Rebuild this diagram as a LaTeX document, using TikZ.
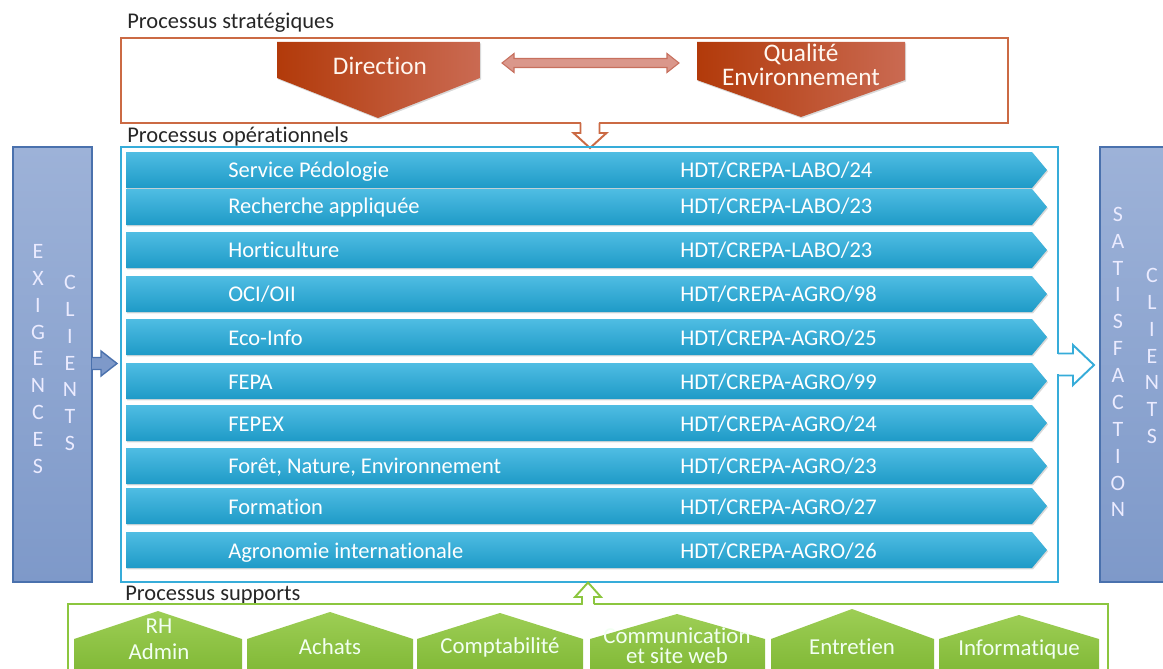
\documentclass[tikz,border=0pt]{standalone}
\usepackage{fontspec}
\setmainfont[Ligatures=NoCommon]{Carlito}
\usepackage{xcolor}
\usetikzlibrary{shadows, positioning}

\definecolor{orangecadre}{HTML}{CB6A44}
\definecolor{orangefonce}{HTML}{B23A0A}
\definecolor{orangeclair}{HTML}{CA6A52}
\definecolor{saumon}{HTML}{DA978B}
\definecolor{saumonbord}{HTML}{C7705E}
\definecolor{cyancadre}{HTML}{36ACD9}
\definecolor{cyanhaut}{HTML}{4FBDE3}
\definecolor{cyanbas}{HTML}{1E9AC7}
\definecolor{bleuhaut}{HTML}{9DB2D8}
\definecolor{bleubas}{HTML}{7E99C9}
\definecolor{bleubord}{HTML}{4A71AD}
\definecolor{vertcadre}{HTML}{8CC63F}
\definecolor{verthaut}{HTML}{9DCE55}
\definecolor{vertbas}{HTML}{78B22D}

\begin{document}
\begin{tikzpicture}[x=0.02cm, y=-0.02cm,
		titre/.style={anchor=base west, inner sep=0pt, text=black!85, font=\fontsize{12.8}{14}\selectfont},
		etiq/.style={anchor=base west, inner sep=0pt, text=white, font=\fontsize{12.8}{14}\selectfont},
		ligne/.style={top color=cyanhaut, bottom color=cyanbas, drop shadow={shadow xshift=0.6pt, shadow yshift=-0.8pt, opacity=0.3}},
		penta/.style={left color=orangefonce, right color=orangeclair, drop shadow={shadow xshift=0.6pt, shadow yshift=-0.8pt, opacity=0.3}},
		maison/.style={top color=verthaut, bottom color=vertbas},
		bleu/.style={draw=bleubord, top color=bleuhaut, bottom color=bleubas, line width=1pt},
		lettres/.style={align=center, inner sep=0pt, text=white!92!blue, font=\fontsize{12.5}{15.3}\selectfont},
		blanc/.style={align=center, inner sep=0pt, text=white!94!orange, font=\fontsize{14.4}{13.5}\selectfont},
		vert/.style={align=center, inner sep=0pt, text=white!95!green, font=\fontsize{13}{14}\selectfont}]
	\useasboundingbox (0,0) rectangle (1163,669);
	
	% processus strategiques
	\node[titre] (tstrat) at (127,29) {Processus stratégiques};
	\draw[orangecadre, line width=1.1pt] (121,38) rectangle (1008,123);
	\path[penta] (277,42) -- (480,42) -- (480,78) -- (378,118) -- (277,78) -- cycle;
	\path[penta] (697,42) -- (905,42) -- (905,80) -- (801,117) -- (697,80) -- cycle;
	\node[blanc] (dir) at (380,66) {Direction};
	\node[blanc] (qual) at (801,65) {Qualité\\Environnement};
	\filldraw[fill=saumon, draw=saumonbord, line width=0.6pt] (502,63) -- (514,53.5) -- (514,58.5) -- (667,58.5) -- (667,53.5) -- (679,63) -- (667,72.5) -- (667,67.5) -- (514,67.5) -- (514,72.5) -- cycle;
	
	% fleche vers operationnels
	\fill[white] (581,120) rectangle (599,126);
	\filldraw[fill=white, draw=orangecadre, line width=1.1pt] (580.5,123) -- (580.5,133) -- (573.5,133) -- (590,148) -- (606.5,133) -- (599.5,133) -- (599.5,123);
	
	% processus operationnels
	\node[titre] (toper) at (127,142) {Processus opérationnels};
	\draw[cyancadre, line width=1.1pt] (121,147) rectangle (1058,582);
	\path[ligne] (126,152) -- ++(906,0) -- ++(15,18) -- ++(-15,18) -- ++(-906,0) -- cycle;
	\path[ligne] (126,189) -- ++(906,0) -- ++(15,18) -- ++(-15,18) -- ++(-906,0) -- cycle;
	\path[ligne] (126,232) -- ++(906,0) -- ++(15,18) -- ++(-15,18) -- ++(-906,0) -- cycle;
	\path[ligne] (126,276) -- ++(906,0) -- ++(15,18) -- ++(-15,18) -- ++(-906,0) -- cycle;
	\path[ligne] (126,319) -- ++(906,0) -- ++(15,18) -- ++(-15,18) -- ++(-906,0) -- cycle;
	\path[ligne] (126,363) -- ++(906,0) -- ++(15,18) -- ++(-15,18) -- ++(-906,0) -- cycle;
	\path[ligne] (126,405) -- ++(906,0) -- ++(15,18) -- ++(-15,18) -- ++(-906,0) -- cycle;
	\path[ligne] (126,448) -- ++(906,0) -- ++(15,18) -- ++(-15,18) -- ++(-906,0) -- cycle;
	\path[ligne] (126,488) -- ++(906,0) -- ++(15,18) -- ++(-15,18) -- ++(-906,0) -- cycle;
	\path[ligne] (126,532) -- ++(906,0) -- ++(15,18) -- ++(-15,18) -- ++(-906,0) -- cycle;
	\node[etiq] (s1) at (228,177) {Service Pédologie};
	\node[etiq] (h1) at (680,177) {HDT/CREPA-LABO/24};
	\node[etiq] (s2) at (228,214) {Recherche appliquée};
	\node[etiq] (h2) at (680,214) {HDT/CREPA-LABO/23};
	\node[etiq] (s3) at (228,257) {Horticulture};
	\node[etiq] (h3) at (680,257) {HDT/CREPA-LABO/23};
	\node[etiq] (s4) at (228,301) {OCI/OII};
	\node[etiq] (h4) at (680,301) {HDT/CREPA-AGRO/98};
	\node[etiq] (s5) at (228,345) {Eco-Info};
	\node[etiq] (h5) at (680,345) {HDT/CREPA-AGRO/25};
	\node[etiq] (s6) at (228,389) {FEPA};
	\node[etiq] (h6) at (680,389) {HDT/CREPA-AGRO/99};
	\node[etiq] (s7) at (228,431) {FEPEX};
	\node[etiq] (h7) at (680,431) {HDT/CREPA-AGRO/24};
	\node[etiq] (s8) at (228,473) {Forêt, Nature, Environnement};
	\node[etiq] (h8) at (680,473) {HDT/CREPA-AGRO/23};
	\node[etiq] (s9) at (228,514) {Formation};
	\node[etiq] (h9) at (680,514) {HDT/CREPA-AGRO/27};
	\node[etiq] (s10) at (228,558) {Agronomie internationale};
	\node[etiq] (h10) at (680,558) {HDT/CREPA-AGRO/26};
	
	% exigences clients
	\draw[bleu] (13,147) rectangle (92,582);
	\node[lettres] (exig) at (38,359) {E\\X\\I\\G\\E\\N\\C\\E\\S};
	\node[lettres] (cli1) at (70,363) {C\\L\\I\\E\\N\\T\\S};
	\filldraw[fill=bleubas, draw=bleubord, line width=0.8pt] (92,357.5) -- (101,357.5) -- (101,351) -- (117,363.5) -- (101,376) -- (101,369.5) -- (92,369.5);
	
	% satisfaction clients
	\draw[bleu] (1100,147) rectangle (1190,582);
	\node[lettres] (satis) at (1118,362) {S\\A\\T\\I\\S\\F\\A\\C\\T\\I\\O\\N};
	\node[lettres] (cli2) at (1152,356) {C\\L\\I\\E\\N\\T\\S};
	\fill[white] (1056,354) rectangle (1060,374);
	\draw[cyancadre, line width=1.1pt] (1058,353.5) -- (1073,353.5) -- (1073,345) -- (1094,365) -- (1073,385) -- (1073,375.5) -- (1058,375.5);
	
	% processus supports
	\node[titre] (tsupp) at (125,600) {Processus supports};
	\draw[vertcadre, line width=1.1pt] (68,604) rectangle (1108,700);
	\fill[white] (582.5,602) rectangle (593.5,606);
	\filldraw[fill=white, draw=vertcadre, line width=1.1pt] (582,604) -- (582,597) -- (575,597) -- (588,582.5) -- (601,597) -- (594,597) -- (594,604);
	\path[maison] (74,690) -- (74,639) -- (158,611) -- (242,639) -- (242,690) -- cycle;
	\path[maison] (247,690) -- (247,639) -- (330,612) -- (413,639) -- (413,690) -- cycle;
	\path[maison] (417,690) -- (417,639) -- (500,613) -- (583,639) -- (583,690) -- cycle;
	\path[maison] (590,690) -- (590,639) -- (677,614) -- (765,639) -- (765,690) -- cycle;
	\path[maison] (771,690) -- (771,639) -- (852,609) -- (934,639) -- (934,690) -- cycle;
	\path[maison] (939,690) -- (939,639) -- (1019,615) -- (1099,639) -- (1099,690) -- cycle;
	\node[vert] (rh) at (159,639) {RH\\[1pt]Admin};
	\node[vert] (ach) at (330,647) {Achats};
	\node[vert] (compta) at (500,647) {Comptabilité};
	\node[vert, font=\fontsize{13}{11.5}\selectfont] (comm) at (677,646) {Communication\\et site web};
	\node[vert] (entr) at (852,647) {Entretien};
	\node[vert] (info) at (1019,649) {Informatique};
\end{tikzpicture}
\end{document}
